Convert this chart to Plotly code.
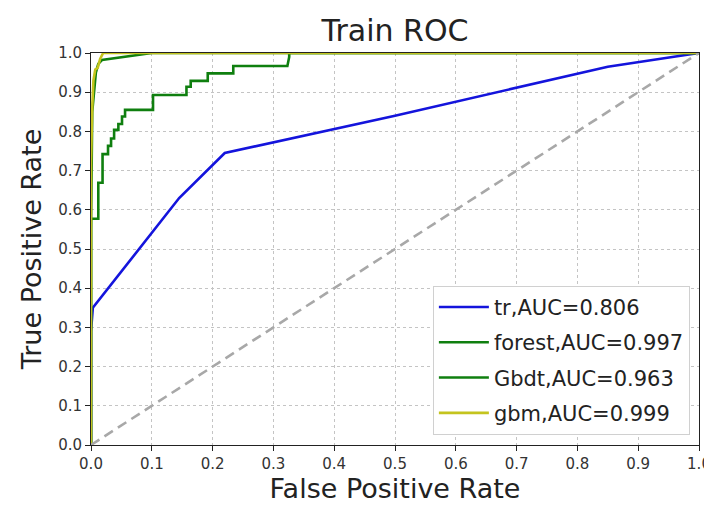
import plotly.graph_objects as go

# ---- data ----
tr_fpr = [0.0, 0.0, 0.003, 0.145, 0.22, 0.50, 0.85, 1.0]
tr_tpr = [0.0, 0.29, 0.35, 0.63, 0.745, 0.84, 0.965, 1.0]

forest_fpr = [0.0, 0.0, 0.002, 0.005, 0.008, 0.012, 0.018, 0.10, 1.0]
forest_tpr = [0.0, 0.55, 0.85, 0.90, 0.95, 0.972, 0.982, 1.0, 1.0]

gbdt_fpr = [0.0, 0.0, 0.012, 0.012, 0.019, 0.019, 0.028, 0.028, 0.033, 0.033,
            0.038, 0.038, 0.045, 0.045, 0.051, 0.051, 0.056, 0.056, 0.102, 0.102,
            0.157, 0.157, 0.164, 0.164, 0.192, 0.192, 0.234, 0.234, 0.323, 0.326,
            0.326, 1.0]
gbdt_tpr = [0.0, 0.577, 0.577, 0.669, 0.669, 0.742, 0.742, 0.763, 0.763, 0.782,
            0.782, 0.804, 0.804, 0.819, 0.819, 0.838, 0.838, 0.855, 0.855, 0.893,
            0.893, 0.914, 0.914, 0.929, 0.929, 0.948, 0.948, 0.967, 0.967, 0.99,
            1.0, 1.0]

gbm_fpr = [0.0, 0.0, 0.002, 0.004, 0.007, 0.011, 0.015, 0.02, 1.0]
gbm_tpr = [0.0, 0.72, 0.86, 0.93, 0.958, 0.962, 0.985, 1.0, 1.0]

diag = [0.0, 1.0]

names = ["tr,AUC=0.806", "forest,AUC=0.997", "Gbdt,AUC=0.963", "gbm,AUC=0.999"]
colors = ["#1414dc", "#0f7f0f", "#0f7f0f", "#c4c41e"]

tick_vals = [i / 10 for i in range(11)]
tick_text = ["%.1f" % v for v in tick_vals]

fig = go.Figure()
series = [(tr_fpr, tr_tpr), (forest_fpr, forest_tpr), (gbdt_fpr, gbdt_tpr), (gbm_fpr, gbm_tpr)]
for i, ((xs, ys), nm, c) in enumerate(zip(series, names, colors)):
    fig.add_trace(go.Scatter(x=xs, y=ys, mode="lines", name=nm, legendgroup=nm,
                             line=dict(color=c, width=2.6)))
fig.add_trace(go.Scatter(x=diag, y=diag, mode="lines", showlegend=False,
                         line=dict(color="#a8a8a8", width=2.6, dash="10px,6px")))

font_family = "DejaVu Sans"
axis_common = dict(
    range=[0, 1], tickvals=tick_vals, ticktext=tick_text,
    showline=True, linecolor="#222", linewidth=1, mirror=True,
    ticks="outside", ticklen=5, tickcolor="#222",
    showgrid=True, gridcolor="#c4c4c4", griddash="dot", gridwidth=1,
    zeroline=False, automargin=False,
    tickfont=dict(size=15, color="#333", family=font_family),
)
fig.update_xaxes(**axis_common,
                 title=dict(text="False Positive Rate", font=dict(size=27, color="#222", family=font_family), standoff=6))
fig.update_yaxes(**axis_common,
                 title=dict(text="True Positive Rate", font=dict(size=27, color="#222", family=font_family), standoff=8))

# page body has an 8px margin, so the figure is offset by 8px in the window
W, H = 704, 502
fig.update_layout(
    width=W, height=H,
    margin=dict(l=83, r=13, t=45, b=65, autoexpand=False),
    paper_bgcolor="white", plot_bgcolor="white",
    font=dict(family=font_family, color="#222"),
    title=dict(text="Train ROC", x=(83 + 304) / W, xanchor="center",
               y=1 - 22 / H, yanchor="middle", automargin=False,
               font=dict(size=30, color="#222", family=font_family)),
    legend=dict(x=0.985, xanchor="right", y=0.026, yanchor="bottom",
                bgcolor="white", bordercolor="#d0d0d0", borderwidth=1,
                font=dict(size=21, color="#222", family=font_family),
                tracegroupgap=5, traceorder="grouped", itemwidth=50),
    showlegend=True,
)

fig.write_html("out.html")
